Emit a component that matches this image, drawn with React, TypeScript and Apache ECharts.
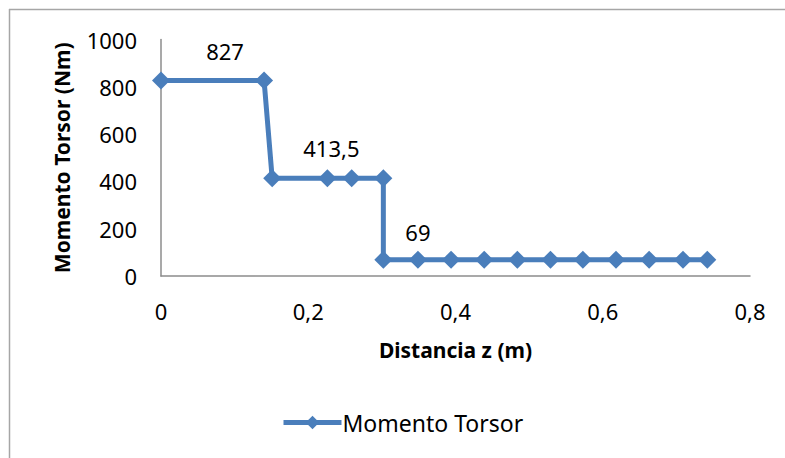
import React, { useEffect, useRef } from "react";
import * as echarts from "echarts";

const distanceZ = [0, 0.14, 0.151, 0.226, 0.259, 0.302, 0.302, 0.349, 0.394, 0.439, 0.484, 0.529, 0.573, 0.618, 0.663, 0.709, 0.742];
const torque = [827, 827, 413.5, 413.5, 413.5, 413.5, 69, 69, 69, 69, 69, 69, 69, 69, 69, 69, 69];
const labelledPoints = [
  { index: 0, text: "827", offset: [64, 5] },
  { index: 3, text: "413,5", offset: [4, 4] },
  { index: 7, text: "69", offset: [0, 6] },
];
const seriesName = "Momento Torsor";
const xTitle = "Distancia z (m)";
const yTitle = "Momento Torsor (Nm)";

const FONT = "'Noto Sans', sans-serif";
const COLOR = "#4A7EBB";

export default function App() {
  const ref = useRef<HTMLDivElement>(null);
  useEffect(() => {
    document.body.style.margin = "0";
    document.documentElement.style.overflow = "hidden";
    const chart = echarts.init(ref.current!, null, { renderer: "svg" });
    const data = distanceZ.map((z, i) => {
      const lp = labelledPoints.find((p) => p.index === i);
      const item: any = { value: [z, torque[i]] };
      if (lp) {
        item.label = {
          show: true,
          position: "top",
          distance: 14,
          offset: lp.offset,
          formatter: lp.text,
          fontFamily: FONT,
          fontSize: 22,
          color: "#000",
        };
      }
      return item;
    });
    chart.setOption({
      animation: false,
      backgroundColor: "#fff",
      textStyle: { fontFamily: FONT },
      graphic: [
        {
          type: "line",
          shape: { x1: 9, y1: 9.5, x2: 800, y2: 9.5 },
          style: { stroke: "#A6A6A6", lineWidth: 1.5 },
          silent: true,
        },
        {
          type: "line",
          shape: { x1: 9.5, y1: 9, x2: 9.5, y2: 470 },
          style: { stroke: "#A6A6A6", lineWidth: 1.5 },
          silent: true,
        },
      ],
      grid: { left: 161, right: 35, top: 39.5, bottom: 182 },
      xAxis: {
        type: "value",
        min: 0,
        max: 0.8,
        interval: 0.2,
        name: xTitle,
        nameLocation: "middle",
        nameGap: 63,
        nameTextStyle: { fontFamily: FONT, fontSize: 21, fontWeight: "bold", color: "#000", verticalAlign: "top" },
        axisLine: { show: true, lineStyle: { color: "#8C8C8C", width: 1.5 } },
        axisTick: { show: false },
        splitLine: { show: false },
        axisLabel: {
          margin: 24,
          fontFamily: FONT,
          fontSize: 22,
          color: "#000",
          formatter: (v: number) => String(Number(v.toFixed(1))).replace(".", ","),
        },
      },
      yAxis: {
        type: "value",
        min: 0,
        max: 1000,
        interval: 200,
        name: yTitle,
        nameLocation: "middle",
        nameGap: 89,
        nameRotate: 90,
        nameTextStyle: { fontFamily: FONT, fontSize: 21, fontWeight: "bold", color: "#000" },
        axisLine: { show: true, lineStyle: { color: "#8C8C8C", width: 1.5 } },
        axisTick: { show: false },
        splitLine: { show: false },
        axisLabel: {
          margin: 24,
          fontFamily: FONT,
          fontSize: 22,
          color: "#000",
          formatter: (v: number) => String(v),
        },
      },
      legend: {
        bottom: 24,
        left: 281,
        padding: 0,
        itemWidth: 58,
        itemHeight: 17,
        itemGap: 4,
        lineStyle: { width: 5 },
        textStyle: { fontFamily: FONT, fontSize: 23, color: "#000", padding: [0, 0, 0, -4] },
        data: [seriesName],
      },
      series: [
        {
          name: seriesName,
          type: "line",
          data,
          symbol: "diamond",
          symbolSize: 18,
          lineStyle: { color: COLOR, width: 5 },
          itemStyle: { color: COLOR },
          label: { show: false },
        },
      ],
    });
    return () => chart.dispose();
  }, []);
  return <div ref={ref} style={{ width: 785, height: 458 }} />;
}
